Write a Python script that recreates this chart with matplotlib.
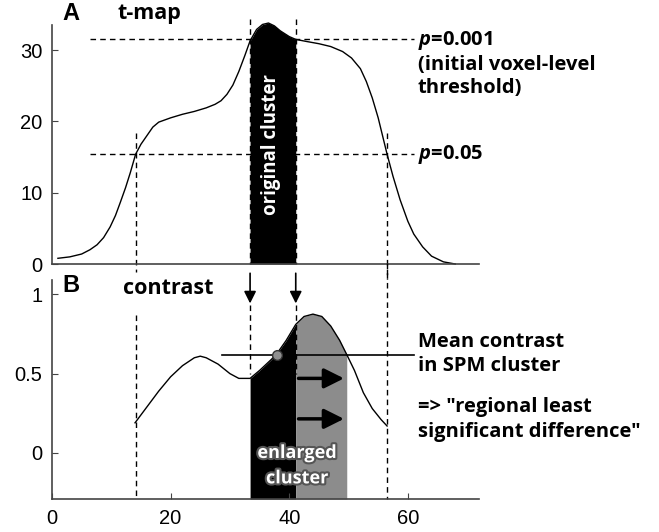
import numpy as np
import matplotlib
matplotlib.use('Agg')
import matplotlib.pyplot as plt
import matplotlib.patheffects as pe

# t-map profile
t_x = [1, 3, 5, 6.4, 7.6, 8.7, 9.8, 10.7, 11.5, 12.4, 13.2, 14.1, 15, 16, 17, 18, 20, 22,
       24, 26, 27.5, 28.5, 29.5, 30.5, 31.5, 32.5, 33.4, 34.5, 35.5, 36.5, 37.5, 38.5, 40,
       41.1, 43, 45, 47, 49, 50.5, 52, 53, 54, 55, 56.5, 57.5, 58.7, 60, 61, 62.5, 64, 66, 68]
t_val = [0.8, 1.0, 1.4, 2.0, 2.7, 3.7, 5.2, 6.8, 8.6, 10.7, 12.8, 15.4, 16.8, 18.0, 19.2,
         19.9, 20.5, 21.0, 21.4, 21.9, 22.4, 22.9, 23.8, 25.1, 27.0, 29.2, 31.3, 32.9, 33.6,
         33.8, 33.4, 32.7, 31.9, 31.5, 31.2, 30.9, 30.5, 29.8, 28.9, 27.4, 25.6, 23.3, 20.5,
         15.4, 12.3, 9.0, 6.0, 4.2, 2.4, 1.1, 0.3, 0.0]

# contrast profile
c_x = [14, 16, 18, 20, 22, 24, 25, 26, 28, 30, 31.5, 33.4, 35, 37, 38, 39.5, 41.1, 42.5,
       44, 45.5, 47, 48.5, 49.7, 51, 52.5, 54, 55.5, 56.5]
c_val = [0.19, 0.29, 0.39, 0.48, 0.55, 0.60, 0.61, 0.60, 0.56, 0.50, 0.47, 0.47, 0.52, 0.59,
         0.63, 0.71, 0.81, 0.86, 0.875, 0.86, 0.80, 0.71, 0.62, 0.52, 0.38, 0.28, 0.21, 0.17]

p001, p05 = 31.5, 15.4          # thresholds on the t-map
x05_left, x05_right = 14.1, 56.5  # extent at p=0.05
clu_lo, clu_hi = 33.4, 41.1     # original cluster
enl_hi = 49.7                   # enlarged cluster edge
mean_c = 0.62                   # mean contrast in cluster
mean_x = 37.9
arrow_y = [0.47, 0.215]

plt.rcParams['font.family'] = ['Liberation Sans', 'DejaVu Sans']
plt.rcParams['mathtext.fontset'] = 'custom'
plt.rcParams['mathtext.it'] = 'Open Sans:bold:italic'
plt.rcParams['mathtext.rm'] = 'Open Sans:bold'
bold = dict(family='Open Sans', weight='bold')
fs = 14.5
dash = (0, (4, 3))
axc = '#444444'

fig = plt.figure(figsize=(6.59, 5.32), dpi=100)
ax1 = fig.add_axes([52/659, 1-264/532, 427/659, 242.4/532])
ax2 = fig.add_axes([52/659, 1-499/532, 427/659, 219/532])

# ---- panel A
ax1.plot(t_x, t_val, color='black', lw=1, clip_on=False)
tx = np.array(t_x); tv = np.array(t_val)
m = (tx >= clu_lo) & (tx <= clu_hi)
ax1.fill_between(tx[m], 0, tv[m], color='black', lw=0)
ax1.plot([6.4, 61], [p001, p001], color='black', lw=1, ls=dash)
ax1.plot([6.4, 61], [p05, p05], color='black', lw=1, ls=dash)
ax1.plot([x05_left, x05_left], [18.4, -1.1], color='black', lw=1, ls=dash, clip_on=False)
ax1.plot([x05_right, x05_right], [18.4, -2.3], color='black', lw=1, ls=dash, clip_on=False)
for xv in [clu_lo, clu_hi]:
    ax1.plot([xv, xv], [34.3, 0], color='black', lw=1, ls=dash, clip_on=False)
ax1.text(37.0, 16.7, 'original cluster', rotation=90, color='white', ha='center',
         va='center', fontsize=13.4, **bold)
ax1.text(61.7, 31.4, '$p$=0.001', va='center', fontsize=fs, **bold)
ax1.text(61.7, 27.9, '(initial voxel-level', va='center', fontsize=fs, **bold)
ax1.text(61.7, 24.7, 'threshold)', va='center', fontsize=fs, **bold)
ax1.text(61.7, 15.4, '$p$=0.05', va='center', fontsize=fs, **bold)

ax1.set_xlim(0, 72)
ax1.set_ylim(0, 34)
ax1.set_yticks([0, 10, 20, 30])
ax1.set_xticks([])
ax1.spines['left'].set_bounds(0, 33.5)

# ---- panel B
cx = np.array(c_x); cv = np.array(c_val)
ax2.plot(cx, cv, color='black', lw=1)
m1 = (cx >= clu_lo) & (cx <= clu_hi)
m2 = (cx >= clu_hi) & (cx <= enl_hi)
ax2.fill_between(cx[m1], -0.29, cv[m1], color='black', lw=0)
ax2.fill_between(cx[m2], -0.29, cv[m2], color='#8c8c8c', lw=0)
ax2.plot([x05_left, x05_left], [0.87, -0.29], color='black', lw=1, ls=dash)
ax2.plot([x05_right, x05_right], [1.2, -0.29], color='black', lw=1, ls=dash, clip_on=False)
for xv in [clu_lo, clu_hi]:
    ax2.plot([xv, xv], [0.93, 0.5], color='black', lw=1, ls=dash, zorder=1)
    ax2.annotate('', xy=(xv, 0.925), xytext=(xv, 1.15), annotation_clip=False,
                 arrowprops=dict(arrowstyle='-|>', color='black', lw=1.2,
                                 mutation_scale=18))
ax2.plot([28.7, 61], [mean_c, mean_c], color='black', lw=1.2)
ax2.plot(mean_x, mean_c, 'o', ms=7, mfc='#8f8f8f', mec='#333333', mew=1)
for ay in arrow_y:
    ax2.annotate('', xy=(enl_hi, ay), xytext=(clu_hi, ay),
                 arrowprops=dict(arrowstyle='-|>', color='black', lw=2.5,
                                 mutation_scale=30))
fx = [pe.withStroke(linewidth=3, foreground='#555555')]
ax2.text(41.3, 0.0, 'enlarged', color='white', ha='center', va='center', fontsize=13,
         path_effects=fx, **bold)
ax2.text(41.3, -0.16, 'cluster', color='white', ha='center', va='center', fontsize=13,
         path_effects=fx, **bold)
ax2.text(61.7, 0.70, 'Mean contrast', va='center', fontsize=fs, **bold)
ax2.text(61.7, 0.545, 'in SPM cluster', va='center', fontsize=fs, **bold)
ax2.text(61.7, 0.29, '=> "regional least', va='center', fontsize=fs, **bold)
ax2.text(61.7, 0.133, 'significant difference"', va='center', fontsize=fs, **bold)

ax2.set_xlim(0, 72)
ax2.set_ylim(-0.29, 1.09)
ax2.set_yticks([0, 0.5, 1])
ax2.set_yticklabels(['0', '0.5', '1'])
ax2.set_xticks([0, 20, 40, 60])

for ax in [ax1, ax2]:
    ax.spines['top'].set_visible(False)
    ax.spines['right'].set_visible(False)
    for s in ['left', 'bottom']:
        ax.spines[s].set_color(axc)
        ax.spines[s].set_linewidth(1.2)
    ax.tick_params(direction='in', length=4, color=axc, labelsize=14.5, pad=7)

fig.text(62/659, 1-14/532, 'A', fontsize=17, va='center', ha='left',
         family='Liberation Sans', weight='bold')
fig.text(118/659, 1-13/532, 't-map', fontsize=15.5, va='center', ha='left', **bold)
fig.text(62/659, 1-285/532, 'B', fontsize=17, va='center', ha='left',
         family='Liberation Sans', weight='bold')
fig.text(123/659, 1-288/532, 'contrast', fontsize=15.5, va='center', ha='left', **bold)

fig.savefig('out.png', dpi=100)
